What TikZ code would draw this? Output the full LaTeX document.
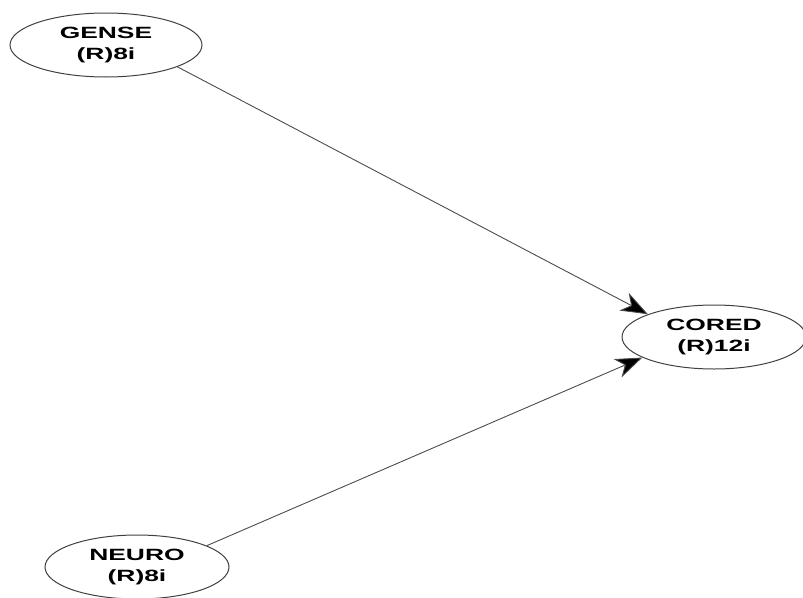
\documentclass[tikz,border=0pt]{standalone}
\usepackage{fontspec}
\usepackage{graphicx}
\setmainfont{Liberation Sans}
\usetikzlibrary{shapes.geometric,arrows.meta}
\tikzset{
  lv/.style={ellipse, draw=black!75, line width=1pt, minimum width=#1, minimum height=64pt, inner sep=0pt,
    font=\fontsize{16.3}{21}\selectfont\bfseries, align=center, text=black},
  path/.style={draw=black!70, line width=0.9pt, -{Stealth[length=27pt,width=20pt,inset=8pt,fill=black]}}
}
\newcommand{\wide}[1]{\scalebox{1.62}[1]{#1}}
\begin{document}
\begin{tikzpicture}[x=1pt,y=-1pt]
\useasboundingbox (0,0) rectangle (803,597);
\node[lv=192pt] (gense) at (106,45) {\wide{GENSE}\\\wide{(R)8i}};
\node[lv=184pt] (cored) at (714,337) {\wide{CORED}\\\wide{(R)12i}};
\node[lv=184pt] (neuro) at (137,567) {\wide{NEURO}\\\wide{(R)8i}};
\draw[path] (gense.-17) -- (cored.161);
\draw[path] (neuro.17) -- (cored.196);
\end{tikzpicture}
\end{document}
